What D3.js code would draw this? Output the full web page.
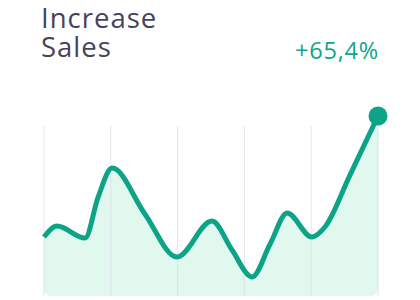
<!DOCTYPE html>
<html lang="en">
<head>
  <meta charset="UTF-8">
  <title>Increase Sales</title>
  <script src="https://d3js.org/d3.v7.min.js"></script>
  <style>
    body {
      margin: 0;
      background-color: #ffffff;
      font-family: "Open Sans", Lato, sans-serif;
    }
    svg {
      display: block;
    }
  </style>
</head>
<body>
  <svg id="chart" width="420" height="300"></svg>
  <script>
    // Data
    const titleLines = ["Increase", "Sales"];
    const changeLabel = "+65,4%";
    const gridTicks = [0, 2, 4, 6, 8, 10];
    const xs = [0, 0.39, 1.23, 1.62, 2.04, 3.02, 3.98, 5.03, 5.63, 6.23, 6.77, 7.28, 8.02, 8.41, 9.16, 10];
    const values = [32.4, 38.5, 31.8, 54.7, 70.9, 45.3, 21.2, 41.3, 25.1, 10.1, 28.5, 45.8, 32.4, 38.0, 67.0, 100];

    const data = xs.map((x, i) => ({ x: x, v: values[i] }));

    const svg = d3.select("#chart");

    // Scales
    const x = d3.scaleLinear().domain([0, 10]).range([44, 378]);
    const y = d3.scaleLinear().domain([0, 100]).range([295, 116]);

    // Title
    svg.append("text")
      .attr("x", 41)
      .attr("y", 28)
      .attr("fill", "#47435a")
      .style("font-size", "27.5px")
      .style("letter-spacing", "1px")
      .selectAll("tspan")
      .data(titleLines)
      .enter().append("tspan")
        .attr("x", 41)
        .attr("dy", (d, i) => i === 0 ? 0 : 29)
        .text(d => d);

    // Percentage label
    svg.append("text")
      .attr("x", 379)
      .attr("y", 59)
      .attr("text-anchor", "end")
      .attr("fill", "#0da688")
      .style("font-size", "23.5px")
      .style("letter-spacing", "0.8px")
      .text(changeLabel);

    // Rounded clip for the area fill
    svg.append("clipPath")
      .attr("id", "fill-clip")
      .append("rect")
        .attr("x", x(0))
        .attr("y", 0)
        .attr("width", x(10) - x(0))
        .attr("height", 296)
        .attr("rx", 7);

    // Area
    const area = d3.area()
      .x(d => x(d.x))
      .y0(y(0) + 10)
      .y1(d => y(d.v))
      .curve(d3.curveMonotoneX);

    svg.append("path")
      .datum(data)
      .attr("clip-path", "url(#fill-clip)")
      .attr("fill", "#e1f8ef")
      .attr("d", area);

    // Vertical grid lines
    svg.append("g")
      .selectAll("line")
      .data(gridTicks)
      .enter().append("line")
        .attr("x1", d => x(d))
        .attr("x2", d => x(d))
        .attr("y1", 126)
        .attr("y2", 296)
        .attr("stroke", "#d9dae8")
        .attr("stroke-opacity", 0.7)
        .attr("stroke-width", 1);

    // Line
    const line = d3.line()
      .x(d => x(d.x))
      .y(d => y(d.v))
      .curve(d3.curveMonotoneX);

    svg.append("path")
      .datum(data)
      .attr("fill", "none")
      .attr("stroke", "#0ca386")
      .attr("stroke-width", 5)
      .attr("stroke-linejoin", "round")
      .attr("d", line);

    // End marker
    const last = data[data.length - 1];
    svg.append("circle")
      .attr("cx", x(last.x))
      .attr("cy", y(last.v))
      .attr("r", 9.5)
      .attr("fill", "#0ca386");
  </script>
</body>
</html>
